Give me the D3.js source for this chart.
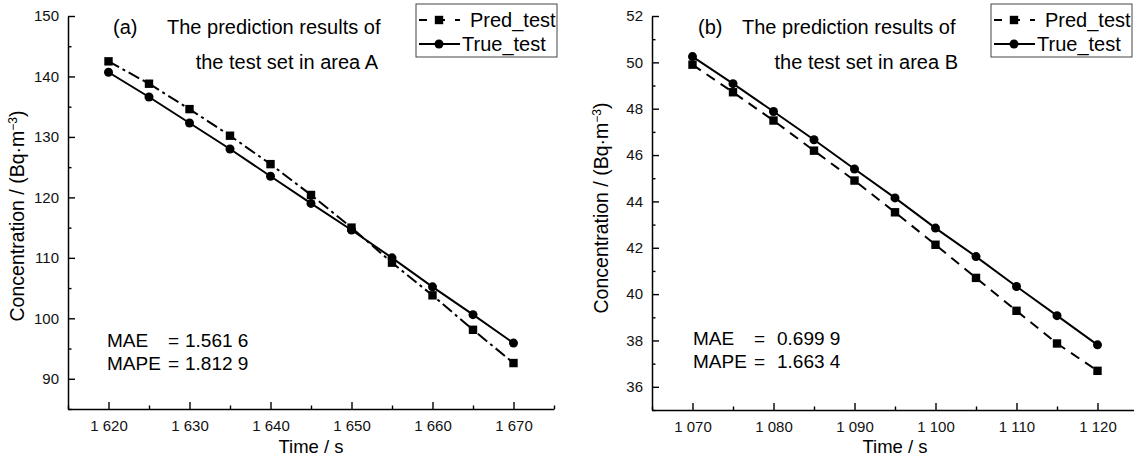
<!DOCTYPE html>
<html>
<head>
<meta charset="utf-8">
<script src="https://cdn.jsdelivr.net/npm/d3@7"></script>
<style>
  body { margin: 0; background: #fff; }
  svg { display: block; font-family: "Liberation Sans", Arial, sans-serif; }
</style>
</head>
<body>
<div id="chart"></div>
<script>
// test set results, area A
const timeA = [1620, 1625, 1630, 1635, 1640, 1645, 1650, 1655, 1660, 1665, 1670];
const predA = [142.5, 138.8, 134.6, 130.2, 125.5, 120.4, 115.0, 109.2, 103.8, 98.1, 92.6];
const trueA = [140.7, 136.6, 132.3, 128.0, 123.5, 119.0, 114.6, 110.0, 105.2, 100.6, 95.9];

// test set results, area B
const timeB = [1070, 1075, 1080, 1085, 1090, 1095, 1100, 1105, 1110, 1115, 1120];
const predB = [49.90, 48.71, 47.49, 46.19, 44.90, 43.53, 42.13, 40.70, 39.28, 37.87, 36.69];
const trueB = [50.25, 49.08, 47.88, 46.66, 45.40, 44.15, 42.85, 41.62, 40.33, 39.07, 37.81];

// tick labels
const xTicksA = [1620, 1630, 1640, 1650, 1660, 1670];
const yTicksA = [90, 100, 110, 120, 130, 140, 150];
const xTicksB = [1070, 1080, 1090, 1100, 1110, 1120];
const yTicksB = [36, 38, 40, 42, 44, 46, 48, 50, 52];

const seriesNames = ["Pred_test", "True_test"];

let svg = d3.select("#chart").append("svg")
  .attr("width", 1134)
  .attr("height", 457);

//format 1620 as "1 620"
function groupThousands(d) {
  return String(d).replace(/^(\d)(\d{3})$/, "$1 $2");
}

function drawPanel(cfg) {
  let x = d3.scaleLinear().domain(cfg.xDomain).range([cfg.left, cfg.right]);
  let y = d3.scaleLinear().domain(cfg.yDomain).range([cfg.bottom, cfg.top]);

  let g = svg.append("g");

  //minor ticks first, major axis on top
  let xMinor = d3.range(cfg.xDomain[0], cfg.xDomain[1] + 0.01, cfg.xStep / 2)
    .filter(v => cfg.xTicks.indexOf(v) < 0);
  let yMinor = d3.range(cfg.yDomain[0], cfg.yDomain[1] + 0.01, cfg.yStep / 2)
    .filter(v => cfg.yTicks.indexOf(v) < 0);

  g.append("g")
    .attr("transform", "translate(0," + cfg.bottom + ")")
    .call(d3.axisBottom(x).tickValues(xMinor).tickSize(-3.5).tickFormat(""))
    .call(a => a.select(".domain").remove())
    .selectAll("line").attr("stroke-width", 1.4);

  g.append("g")
    .attr("transform", "translate(" + cfg.left + ",0)")
    .call(d3.axisLeft(y).tickValues(yMinor).tickSize(-3.5).tickFormat(""))
    .call(a => a.select(".domain").remove())
    .selectAll("line").attr("stroke-width", 1.4);

  let xAxis = g.append("g")
    .attr("transform", "translate(0," + cfg.bottom + ")")
    .call(d3.axisBottom(x).tickValues(cfg.xTicks).tickSize(-7).tickSizeOuter(0)
      .tickPadding(11).tickFormat(groupThousands));

  let yAxis = g.append("g")
    .attr("transform", "translate(" + cfg.left + ",0)")
    .call(d3.axisLeft(y).tickValues(cfg.yTicks).tickSize(-7).tickSizeOuter(0)
      .tickPadding(9).tickFormat(d3.format("d")));

  [xAxis, yAxis].forEach(function (a) {
    a.select(".domain").attr("stroke-width", 1.5);
    a.selectAll(".tick line").attr("stroke-width", 1.4);
    a.selectAll("text").style("font-size", "15px").attr("fill", "#111");
  });

  //series lines
  let line = d3.line()
    .x((d, i) => x(cfg.time[i]))
    .y(d => y(d));

  g.append("path")
    .attr("d", line(cfg.pred))
    .attr("fill", "none")
    .attr("stroke", "#000")
    .attr("stroke-width", 2)
    .attr("stroke-dasharray", cfg.dash);

  g.append("path")
    .attr("d", line(cfg.truth))
    .attr("fill", "none")
    .attr("stroke", "#000")
    .attr("stroke-width", 2);

  g.selectAll(".sq")
    .data(cfg.pred)
    .enter().append("rect")
    .attr("x", (d, i) => x(cfg.time[i]) - 4.2)
    .attr("y", d => y(d) - 4.2)
    .attr("width", 8.4)
    .attr("height", 8.4)
    .attr("fill", "#000");

  g.selectAll(".dot")
    .data(cfg.truth)
    .enter().append("circle")
    .attr("cx", (d, i) => x(cfg.time[i]))
    .attr("cy", d => y(d))
    .attr("r", 4.5)
    .attr("fill", "#000");

  //axis titles
  g.append("text")
    .attr("x", (cfg.left + cfg.right) / 2)
    .attr("y", 453)
    .attr("text-anchor", "middle")
    .style("font-size", "18.5px")
    .text("Time / s");

  let yt = g.append("text")
    .attr("transform", "translate(" + cfg.yTitleX + "," + cfg.yTitleY + ") rotate(-90)")
    .attr("text-anchor", "middle")
    .style("font-size", "19.5px");
  yt.append("tspan").text("Concentration / (Bq\u00b7m");
  yt.append("tspan").attr("dy", -7).style("font-size", "12px").text("\u22123");
  yt.append("tspan").attr("dy", 7).text(")");

  //panel title
  g.append("text")
    .attr("x", cfg.letterX).attr("y", 34)
    .style("font-size", "20px")
    .text(cfg.letter);
  g.append("text")
    .attr("x", cfg.titleX).attr("y", 34)
    .style("font-size", "20px")
    .text("The prediction results of");
  g.append("text")
    .attr("x", cfg.title2End).attr("y", 69)
    .attr("text-anchor", "end")
    .style("font-size", "20px")
    .text("the test set in area " + cfg.area);

  //error metrics
  g.append("text").attr("x", cfg.maeX).attr("y", cfg.maeY)
    .style("font-size", "19px").text("MAE");
  g.append("text").attr("x", cfg.eqX).attr("y", cfg.maeY)
    .style("font-size", "19px").text("=");
  g.append("text").attr("x", cfg.numX).attr("y", cfg.maeY)
    .style("font-size", "19px").text(cfg.mae);
  g.append("text").attr("x", cfg.maeX).attr("y", cfg.maeY + 23)
    .style("font-size", "19px").text("MAPE");
  g.append("text").attr("x", cfg.eqX).attr("y", cfg.maeY + 23)
    .style("font-size", "19px").text("=");
  g.append("text").attr("x", cfg.numX).attr("y", cfg.maeY + 23)
    .style("font-size", "19px").text(cfg.mape);

  //legend
  let lg = g.append("g").attr("transform", "translate(" + cfg.legendX + "," + cfg.legendY + ")");
  lg.append("rect")
    .attr("x", 0).attr("y", 0)
    .attr("width", 141).attr("height", 53)
    .attr("fill", "#fff")
    .attr("stroke", "#444")
    .attr("stroke-width", 1);

  let rows = [16, 40];
  lg.append("line")
    .attr("x1", 3).attr("x2", 44).attr("y1", rows[0]).attr("y2", rows[0])
    .attr("stroke", "#000").attr("stroke-width", 2)
    .attr("stroke-dasharray", "8,10");
  lg.append("rect")
    .attr("x", 23 - 4.2).attr("y", rows[0] - 4.2)
    .attr("width", 8.4).attr("height", 8.4).attr("fill", "#000");
  lg.append("line")
    .attr("x1", 3).attr("x2", 44).attr("y1", rows[1]).attr("y2", rows[1])
    .attr("stroke", "#000").attr("stroke-width", 2);
  lg.append("circle")
    .attr("cx", 23).attr("cy", rows[1]).attr("r", 4.5).attr("fill", "#000");

  lg.append("text").attr("x", 54).attr("y", rows[0] + 7)
    .style("font-size", "20px").text(seriesNames[0]);
  lg.append("text").attr("x", 46).attr("y", rows[1] + 7)
    .style("font-size", "20px").text(seriesNames[1]);
}

drawPanel({
  time: timeA, pred: predA, truth: trueA,
  xDomain: [1615, 1675], yDomain: [85, 150],
  xTicks: xTicksA, yTicks: yTicksA, xStep: 10, yStep: 10,
  left: 68, right: 554, top: 16, bottom: 409,
  dash: "12,4,3,4",
  yTitleX: 24, yTitleY: 216,
  letter: "(a)", letterX: 113, titleX: 167, title2End: 378, area: "A",
  maeX: 107, eqX: 168, numX: 185, maeY: 347,
  mae: "1.561 6", mape: "1.812 9",
  legendX: 416, legendY: 4
});

drawPanel({
  time: timeB, pred: predB, truth: trueB,
  xDomain: [1065, 1125], yDomain: [35, 52],
  xTicks: xTicksB, yTicks: yTicksB, xStep: 10, yStep: 2,
  left: 652, right: 1138, top: 16, bottom: 410,
  dash: "10,7",
  yTitleX: 608, yTitleY: 208,
  letter: "(b)", letterX: 698, titleX: 742, title2End: 958, area: "B",
  maeX: 693, eqX: 754, numX: 777, maeY: 345,
  mae: "0.699 9", mape: "1.663 4",
  legendX: 991, legendY: 4
});
</script>
</body>
</html>
